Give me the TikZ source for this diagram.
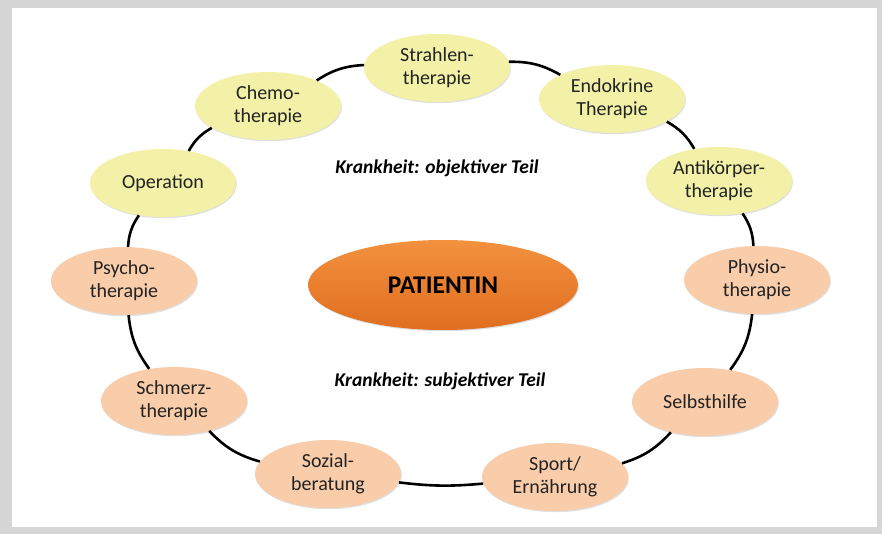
\documentclass[tikz,border=0pt]{standalone}
\usepackage{fontspec}
\setmainfont{Carlito}
\usetikzlibrary{shapes.geometric, shadows}
\definecolor{gelb}{RGB}{243,240,168}
\definecolor{pfirsich}{RGB}{249,204,170}
\definecolor{orangehell}{RGB}{242,145,62}
\definecolor{orangedunkel}{RGB}{224,110,32}
\definecolor{rahmen}{RGB}{214,214,214}
\definecolor{schrift}{RGB}{35,35,35}

\begin{document}
\begin{tikzpicture}[x=1pt, y=-1pt]

	\tikzstyle{therapie}=[ellipse, draw=none, minimum width=146pt, minimum height=68pt, inner sep=0pt, align=center, text=schrift, font=\fontsize{20}{23}\selectfont, drop shadow={shadow xshift=0.8pt, shadow yshift=-1.2pt, opacity=0.25}]
	\tikzstyle{objektiv}=[therapie, fill=gelb]
	\tikzstyle{subjektiv}=[therapie, fill=pfirsich]
	\tikzstyle{patient}=[ellipse, draw=none, minimum width=270pt, minimum height=90pt, top color=orangehell, bottom color=orangedunkel, font=\fontsize{25.5}{30}\selectfont\bfseries, drop shadow={shadow xshift=0.8pt, shadow yshift=-1.2pt, opacity=0.25}]
	\tikzstyle{teil}=[font=\fontsize{19.5}{23}\selectfont\bfseries\itshape]
	\tikzstyle{ring}=[line width=2.6pt, black]

	% Rahmen
	\fill[rahmen] (0,0) rectangle (882,534);
	\fill[white] (12,8) rectangle (877,527);
	\useasboundingbox (0,0) rectangle (882,534);

	% Mitte
	\node[patient] (pat) at (443,285) {PATIENTIN};
	\node[teil] (obj) at (437,168) {Krankheit: objektiver Teil};
	\node[teil] (subj) at (440,381) {Krankheit: subjektiver Teil};

	% Ring, oben
	\node[objektiv] (strahl) at (437,68) {Strahlen-\\therapie};
	\node[objektiv] (endo) at (612,99) {Endokrine\\Therapie};
	\node[objektiv] (anti) at (719,181) {Antikörper-\\therapie};
	\node[objektiv] (chemo) at (268,106) {Chemo-\\therapie};
	\node[objektiv] (op) at (163,183) {Operation};

	% Ring, unten
	\node[subjektiv] (physio) at (757,280) {Physio-\\therapie};
	\node[subjektiv] (selbst) at (705,402) {Selbsthilfe};
	\node[subjektiv] (sport) at (555,477) {Sport/\\Ernährung};
	\node[subjektiv] (sozial) at (328,474) {Sozial-\\beratung};
	\node[subjektiv] (schmerz) at (174,401) {Schmerz-\\therapie};
	\node[subjektiv] (psycho) at (124,281) {Psycho-\\therapie};

	\foreach \a/\b in {strahl/endo, endo/anti, anti/physio, physio/selbst, selbst/sport, sozial/schmerz, schmerz/psycho, psycho/op, op/chemo, chemo/strahl}
		\draw[ring] (\a) to[bend left=15] (\b);
	\draw[ring] (sport) to[bend left=6] (sozial);

\end{tikzpicture}
\end{document}
